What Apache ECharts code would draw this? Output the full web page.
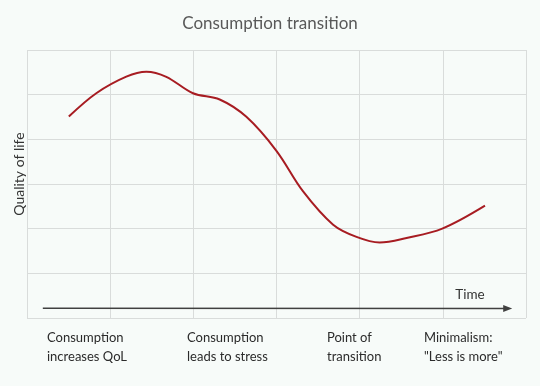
<!DOCTYPE html>
<html>
<head>
<meta charset="utf-8">
<script src="https://cdn.jsdelivr.net/npm/echarts@6/dist/echarts.min.js"></script>
<style>
html,body{margin:0;padding:0;background:#f7fbf9;}
#c{width:540px;height:386px;}
</style>
</head>
<body>
<div id="c"></div>
<script>
var titleText = 'Consumption transition';
var yAxisName = 'Quality of life';
var timeName = 'Time';
var stageLabels = ['Consumption\nincreases QoL', 'Consumption\nleads to stress', 'Point of\ntransition', 'Minimalism:\n"Less is more"'];
var curveX = [0.503, 0.833, 1.194, 1.435, 1.675, 1.996, 2.317, 2.638, 2.999, 3.320, 3.681, 3.962, 4.240, 4.564, 4.993, 5.507];
var curveY = [4.510, 5.032, 5.403, 5.515, 5.400, 5.032, 4.892, 4.503, 3.743, 2.834, 2.089, 1.815, 1.690, 1.792, 2.000, 2.514];
var timeArrow = [[0.19, 0.22], [5.78, 0.21]];

var curveData = curveX.map(function (x, i) { return [x, curveY[i]]; });

var chart = echarts.init(document.getElementById('c'), null, {renderer: 'canvas'});
var font = 'Lato, "Open Sans", sans-serif';
var stageLeft = [47, 187, 327, 424];
chart.setOption({
  backgroundColor: '#f7fbf9',
  animation: false,
  title: {
    text: titleText,
    left: 'center',
    top: 10,
    textStyle: {fontFamily: font, fontSize: 17, fontWeight: 'normal', color: '#595959'}
  },
  grid: {left: 27, right: 14, top: 50, bottom: 68},
  xAxis: {
    type: 'value', min: 0, max: 6, interval: 1,
    axisLine: {show: false}, axisTick: {show: false}, axisLabel: {show: false},
    splitLine: {show: true, lineStyle: {color: '#d9dcdb', width: 1}}
  },
  yAxis: {
    type: 'value', min: 0, max: 6, interval: 1,
    axisLine: {show: false}, axisTick: {show: false}, axisLabel: {show: false},
    splitLine: {show: true, lineStyle: {color: '#d9dcdb', width: 1}}
  },
  graphic: [
    {type: 'text', x: 19, y: 174, rotation: Math.PI / 2,
     style: {text: yAxisName, fontFamily: font, fontSize: 14, fill: '#333', align: 'center', verticalAlign: 'middle'}},
    {type: 'text', x: 470, y: 295,
     style: {text: timeName, fontFamily: font, fontSize: 13.5, fill: '#333', align: 'center', verticalAlign: 'middle'}}
  ].concat(stageLabels.map(function (t, i) {
    return {type: 'text', x: stageLeft[i], y: 329,
      style: {text: t, fontFamily: font, fontSize: 13, lineHeight: 18.5, fill: '#2b2b2b', align: 'left', verticalAlign: 'top'}};
  })),
  series: [
    {
      type: 'line', data: curveData, smooth: 0.35, showSymbol: false, symbol: 'none',
      lineStyle: {color: '#a71c22', width: 2}, z: 3,
      markLine: {
        silent: true, symbol: ['none', 'triangle'], symbolSize: [7, 9],
        lineStyle: {color: '#404040', width: 1.5, type: 'solid'},
        label: {show: false},
        data: [[{coord: timeArrow[0]}, {coord: timeArrow[1]}]]
      }
    }
  ]
});
</script>
</body>
</html>
